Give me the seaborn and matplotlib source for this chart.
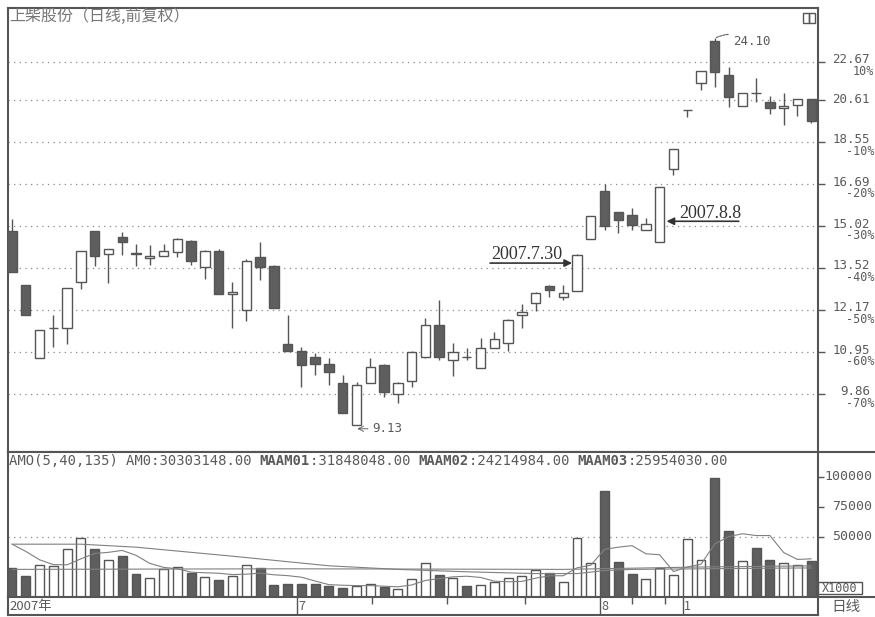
import numpy as np
import pandas as pd
import matplotlib
matplotlib.use("Agg")
import matplotlib.pyplot as plt
import matplotlib.transforms as mtransforms
from matplotlib.patches import Rectangle
from matplotlib.lines import Line2D
from matplotlib.ticker import NullLocator, FixedLocator
import seaborn as sns

# ---------------- data ----------------
opens = [14.84, 12.96, 10.79, 11.62, 11.63, 13.06, 14.84, 14.01, 14.62, 14.04,
         13.88, 13.94, 14.08, 14.47, 13.55, 14.11, 12.68, 12.17, 13.90, 13.59,
         11.17, 10.98, 10.82, 10.63, 10.13, 9.13, 10.13, 10.60, 9.86, 10.18,
         10.82, 11.72, 10.74, 10.83, 10.52, 11.06, 11.20, 12.02, 12.39, 12.92,
         12.57, 12.76, 14.54, 16.40, 15.56, 15.45, 14.87, 14.43, 17.33, 20.09,
         21.51, 23.90, 21.94, 20.30, 20.99, 20.51, 20.20, 20.35, 20.66]
highs = [15.29, 12.96, 11.58, 12.02, 12.86, 14.11, 14.84, 14.18, 14.80, 14.36,
         14.32, 14.36, 14.58, 14.50, 14.15, 14.18, 13.06, 13.83, 14.43, 13.62,
         12.02, 11.09, 10.92, 10.79, 10.34, 10.16, 10.79, 10.63, 10.16, 10.98,
         11.93, 12.48, 11.20, 11.06, 11.34, 11.52, 11.90, 12.35, 12.73, 12.95,
         12.96, 14.00, 15.40, 16.69, 15.56, 15.72, 15.33, 16.57, 18.23, 20.12,
         22.17, 24.10, 22.39, 20.97, 21.78, 20.82, 20.97, 20.66, 20.66]
lows = [13.39, 12.02, 10.79, 11.09, 11.17, 12.83, 13.59, 13.02, 13.97, 13.59,
        13.62, 13.94, 13.90, 13.62, 13.15, 12.67, 11.63, 11.84, 13.12, 12.23,
        10.98, 10.03, 10.34, 10.08, 9.40, 9.13, 10.13, 9.78, 9.64, 10.03,
        10.79, 10.74, 10.31, 10.74, 10.52, 11.06, 10.98, 11.63, 12.14, 12.57,
        12.48, 12.76, 14.54, 14.87, 14.76, 14.87, 14.87, 14.43, 17.08, 19.75,
        21.13, 21.29, 20.25, 20.30, 20.51, 19.90, 19.36, 19.80, 19.45]
closes = [13.39, 12.02, 11.58, 11.64, 12.86, 14.11, 13.94, 14.18, 14.43, 14.00,
          13.92, 14.11, 14.54, 13.76, 14.11, 12.67, 12.72, 13.76, 13.55, 12.23,
          10.98, 10.60, 10.63, 10.42, 9.40, 10.08, 10.55, 9.91, 10.13, 10.95,
          11.72, 10.82, 10.95, 10.81, 11.06, 11.32, 11.87, 12.11, 12.70, 12.80,
          12.70, 13.97, 15.40, 15.02, 15.25, 15.06, 15.10, 16.57, 18.23, 20.11,
          22.17, 22.11, 20.77, 20.97, 20.95, 20.20, 20.30, 20.66, 19.55]
# turnover amount (x1000)
volumes = [24.2, 17.5, 26.7, 25.8, 40.0, 49.2, 40.0, 30.8, 34.2, 19.2,
           15.8, 23.3, 25.0, 20.0, 16.7, 14.2, 17.5, 26.7, 24.2, 10.0,
           10.8, 10.8, 10.8, 9.2, 7.5, 9.2, 10.8, 8.3, 6.7, 15.0,
           28.3, 18.3, 15.8, 9.2, 10.0, 12.5, 15.8, 17.5, 22.5, 20.0,
           12.5, 49.2, 28.3, 88.3, 29.2, 19.2, 15.0, 24.2, 18.3, 48.3,
           30.8, 99.2, 55.0, 30.0, 40.8, 30.8, 28.3, 26.7, 30.3]
maam01 = [44.0, 38.0, 31.0, 27.0, 26.8, 31.8, 36.3, 37.2, 38.8, 34.7,
          28.0, 24.7, 23.5, 20.7, 20.2, 19.8, 18.7, 19.0, 19.9, 18.5,
          17.8, 16.5, 13.3, 10.3, 9.8, 9.5, 9.5, 9.0, 8.5, 10.0,
          13.8, 15.3, 16.8, 17.3, 16.3, 13.2, 12.7, 13.0, 15.7, 17.7,
          17.7, 24.3, 26.5, 39.7, 41.5, 42.8, 36.0, 35.2, 21.2, 25.0,
          27.3, 44.2, 50.3, 52.7, 51.2, 51.2, 37.0, 31.3, 31.8]
maam02_idx = [0, 5, 9, 16, 23, 28, 33, 38, 41, 43, 45, 50, 55, 58]
maam02_val = [44.0, 44.0, 41.5, 34.0, 26.0, 23.0, 21.0, 19.5, 19.5, 22.0, 23.0, 23.5, 24.0, 24.2]
maam03_idx = [0, 20, 40, 50, 58]
maam03_val = [23.0, 23.5, 23.0, 25.0, 25.95]

price_ticks = [22.67, 20.61, 18.55, 16.69, 15.02, 13.52, 12.17, 10.95, 9.86]
pct_labels = ["10%", "", "-10%", "-20%", "-30%", "-40%", "-50%", "-60%", "-70%"]
vol_ticks = [100, 75, 50]
vol_tick_labels = ["100000", "75000", "50000"]
month_pos = [20.68, 42.67, 48.69]
month_labels = ["7", "8", "1"]
week_pos = [26.12, 31.57, 37.23, 44.99, 47.39]
header_pieces = [("AMO(5,40,135) ", "normal"), ("AM0:30303148.00 ", "normal"),
                 ("MAAM01", "bold"), (":31848048.00 ", "normal"),
                 ("MAAM02", "bold"), (":24214984.00 ", "normal"),
                 ("MAAM03", "bold"), (":25954030.00", "normal")]
title = "上柴股份（日线,前复权）"

# ---------------- style ----------------
sns.set_theme(style="white")
plt.rcParams['font.family'] = ['DejaVu Sans', 'Noto Sans CJK SC']
CJK = ['Noto Sans CJK SC', 'DejaVu Sans']
MONO = 'DejaVu Sans Mono'
EDGE = '#555555'
DARK = '#5e5e5e'
TXT = '#5a5a5a'
GRID = '#8a8a8a'

W, H = 875, 617
fig = plt.figure(figsize=(W / 100, H / 100), dpi=100)
fig.patch.set_facecolor('white')


def fx(px):
    return px / W


def fy(py):
    return 1 - py / H


ax_p = fig.add_axes([fx(8), fy(452), fx(818) - fx(8), fy(8) - fy(452)])
ax_v = fig.add_axes([fx(8), fy(597), fx(818) - fx(8), fy(452) - fy(597)])
ax_d = fig.add_axes([fx(8), fy(615), fx(818) - fx(8), fy(597) - fy(615)])

o = np.array(opens)
c = np.array(closes)
h = np.array(highs)
l = np.array(lows)
v = np.array(volumes)
n = len(c)
x = np.arange(n)
down = c < o
XL = (-0.29, n - 1 + 0.49)

# ---------------- price panel ----------------
ax_p.set_yscale('log')
ax_p.set_ylim(8.523, 25.96)
ax_p.set_xlim(XL)
ax_p.vlines(x, l, h, color=EDGE, lw=1.0, zorder=2)
ax_p.bar(x, np.maximum(np.abs(c - o), 1e-3), bottom=np.minimum(o, c), width=0.68,
         color=np.where(down, DARK, 'white'), edgecolor=EDGE, linewidth=1.0, zorder=3)
ax_p.yaxis.set_major_locator(FixedLocator(price_ticks))
ax_p.yaxis.set_minor_locator(NullLocator())
ax_p.tick_params(axis='y', which='both', left=False, right=True, labelleft=False,
                 labelright=False, length=5, width=1, color=EDGE, direction='out')
ax_p.set_xticks([])
ax_p.grid(axis='y', which='major', linestyle=(0, (1, 3.5)), color=GRID, lw=0.9)
ax_p.grid(axis='x', visible=False)

bt = mtransforms.blended_transform_factory(ax_p.transAxes, ax_p.transData)
xr_num = (870 - 8) / 810
xr_pct = (874 - 8) / 810
for val, pct in zip(price_ticks, pct_labels):
    if pct:
        t1 = mtransforms.offset_copy(bt, fig=fig, y=1.5, units='points')
        ax_p.text(xr_num, val, f"{val:.2f}", transform=t1, ha='right', va='center',
                  family=MONO, size=9, color=TXT)
        t2 = mtransforms.offset_copy(bt, fig=fig, y=-6.8, units='points')
        ax_p.text(xr_pct, val, pct, transform=t2, ha='right', va='center',
                  family=MONO, size=8.5, color=TXT)
    else:
        ax_p.text(xr_num, val, f"{val:.2f}", transform=bt, ha='right', va='center',
                  family=MONO, size=9, color=TXT)

# annotations
imax = int(np.argmax(h))
ax_p.annotate(f"{h[imax]:.2f}", xy=(imax + 0.1, h[imax]), xytext=(12, -3),
              textcoords='offset points', ha='left', va='center', family=MONO,
              size=9, color=TXT,
              arrowprops=dict(arrowstyle='-', color=TXT, lw=0.8, shrinkA=1, shrinkB=0,
                              connectionstyle='arc3,rad=0.3', linestyle=(0, (2, 1))))
imin = int(np.argmin(l))
low_xy = mtransforms.offset_copy(ax_p.transData, fig=fig, y=-3, units='points')
ax_p.annotate(f"{l[imin]:.2f}", xy=(imin + 0.05, l[imin]), xycoords=low_xy,
              xytext=(11, 0), textcoords='offset points', ha='left', va='center',
              family=MONO, size=9, color=TXT,
              arrowprops=dict(arrowstyle='->', color=TXT, lw=0.8, shrinkA=1, shrinkB=0,
                              linestyle=(0, (1, 1))))

SERIF = 'Liberation Serif'
# 2007.7.30 -> candle index 41
i730 = 41
xy730 = mtransforms.offset_copy(ax_p.transData, fig=fig, y=-5.8, units='points')
ax_p.annotate("", xy=(i730 - 0.36, c[i730]), xycoords=xy730, xytext=(-59, 0),
              textcoords='offset points',
              arrowprops=dict(arrowstyle='-|>', color='#333333', lw=1.2,
                              mutation_scale=11, shrinkA=0, shrinkB=0))
ax_p.annotate("2007.7.30", xy=(i730 - 0.36, c[i730]), xycoords=xy730, xytext=(-58.5, 2.9),
              textcoords='offset points', ha='left', va='baseline', family=SERIF,
              size=13, color='#333333')
# 2007.8.8 -> candle index 47
i88 = 47
xy88 = mtransforms.offset_copy(ax_p.transData, fig=fig, y=15, units='points')
ax_p.annotate("", xy=(i88 + 0.5, o[i88]), xycoords=xy88, xytext=(52, 0),
              textcoords='offset points',
              arrowprops=dict(arrowstyle='-|>', color='#333333', lw=1.2,
                              mutation_scale=11, shrinkA=0, shrinkB=0))
ax_p.annotate("2007.8.8", xy=(i88 + 0.5, o[i88]), xycoords=xy88, xytext=(9.4, 2.2),
              textcoords='offset points', ha='left', va='baseline', family=SERIF,
              size=13, color='#333333')

# ---------------- volume panel ----------------
ax_v.set_xlim(XL)
ax_v.set_ylim(0, 120.8)
ax_v.axhline(50, linestyle=(0, (1, 3.5)), color=GRID, lw=0.9, zorder=1)
ax_v.bar(x, v, width=0.65, color=np.where(down, DARK, 'white'), edgecolor=EDGE,
         linewidth=1.0, zorder=3)
sns.lineplot(x=x, y=maam01, ax=ax_v, color='#808080', lw=0.8, zorder=4, legend=False)
sns.lineplot(x=maam02_idx, y=maam02_val, ax=ax_v, color='#808080', lw=0.8, zorder=4, legend=False)
sns.lineplot(x=maam03_idx, y=maam03_val, ax=ax_v, color='#808080', lw=0.8, zorder=4, legend=False)
ax_v.set_xlabel('')
ax_v.set_ylabel('')
ax_v.set_xticks([])
ax_v.yaxis.set_major_locator(FixedLocator(vol_ticks))
ax_v.tick_params(axis='y', left=False, right=True, labelleft=False, labelright=False,
                 length=4, width=1, color=EDGE, direction='out')
btv = mtransforms.blended_transform_factory(ax_v.transAxes, ax_v.transData)
for val, lab in zip(vol_ticks, vol_tick_labels):
    ax_v.text((872 - 8) / 810, val, lab, transform=btv, ha='right', va='center',
              family=MONO, size=9.5, color=TXT)

# header text (monospace pieces)
cw = 0.60205 * 10 * 100 / 72
pos = 9.0
for txt, wt in header_pieces:
    fig.text(fx(pos), fy(461), txt, family=MONO, size=10, weight=wt, color=TXT,
             ha='left', va='center')
    pos += len(txt) * cw

# ---------------- date strip ----------------
ax_d.set_xlim(XL)
ax_d.set_ylim(0, 1)
ax_d.set_xticks([])
ax_d.set_yticks([])
ax_d.vlines(month_pos, 0, 1, color=EDGE, lw=1.0)
ax_d.vlines(week_pos, 0.6, 1, color=EDGE, lw=1.0)
for mp, ml in zip(month_pos, month_labels):
    ax_d.text(mp + 0.1, 0.45, ml, ha='left', va='center', family=CJK, size=9, color=TXT)
ax_d.text(-0.15, 0.45, "2007年", ha='left', va='center', family=CJK, size=9.5, color=TXT)

for ax in (ax_p, ax_v, ax_d):
    ax.set_facecolor('white')
    for sp in ax.spines.values():
        sp.set_visible(True)
        sp.set_color(EDGE)
        sp.set_linewidth(1.5)

# ---------------- figure-level decorations ----------------
fig.text(fx(9), fy(16), title, family=CJK, size=11.5, color='#777777', ha='left', va='center')
fig.add_artist(Line2D([fx(818), fx(875)], [fy(452), fy(452)], color=EDGE, lw=1.5))
fig.add_artist(Line2D([fx(818), fx(875)], [fy(597), fy(597)], color=EDGE, lw=1.5))
fig.add_artist(Rectangle((fx(818), fy(594)), 44 / W, 12 / H, transform=fig.transFigure,
                         fill=False, ec=EDGE, lw=1.0))
fig.text(fx(840), fy(588), "X1000", family=MONO, size=8.5, color=TXT, ha='center', va='center')
fig.text(fx(846), fy(607), "日线", family=CJK, size=10.5, color=TXT, ha='center', va='center')
fig.add_artist(Rectangle((fx(803), fy(23)), 6 / W, 10 / H, transform=fig.transFigure,
                         fill=False, ec=EDGE, lw=1.0))
fig.add_artist(Rectangle((fx(809), fy(23)), 6 / W, 10 / H, transform=fig.transFigure,
                         fill=False, ec=EDGE, lw=1.0))

fig.savefig("out.png", dpi=100, facecolor='white')
